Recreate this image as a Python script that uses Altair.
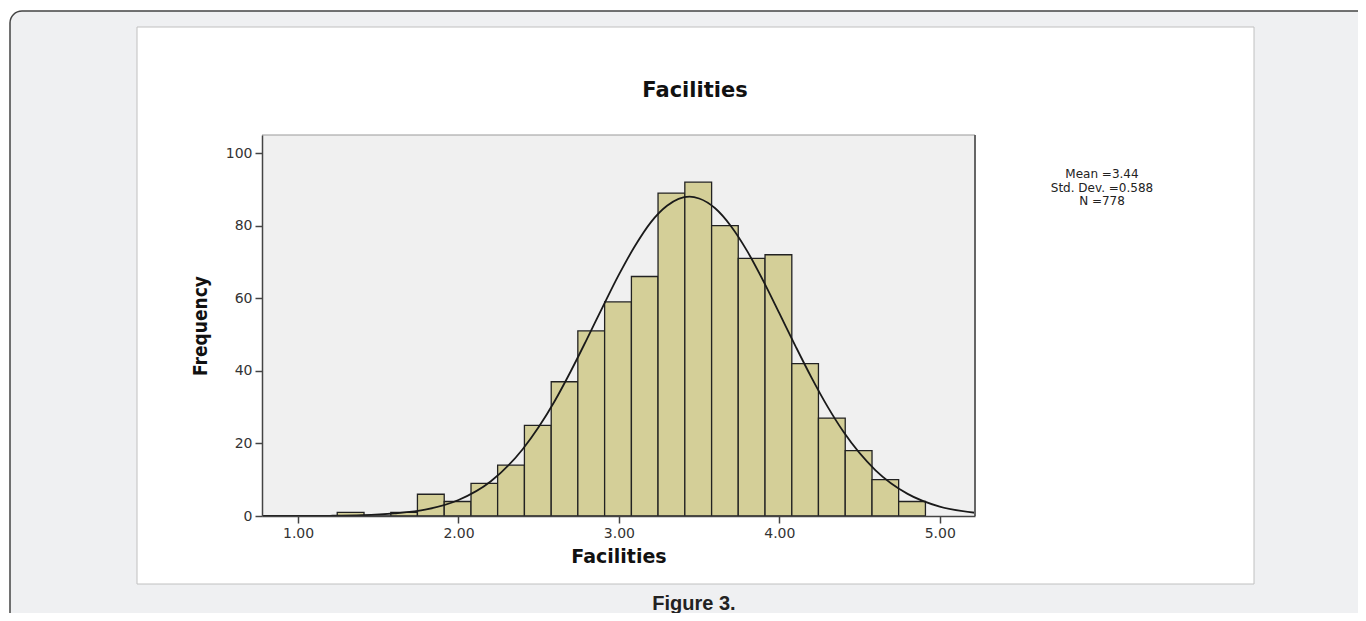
import altair as alt
import pandas as pd

# ---- data ----
bin_lo = [1.244, 1.411, 1.578, 1.744, 1.911, 2.078, 2.244, 2.411, 2.578, 2.744, 2.911,
          3.078, 3.244, 3.411, 3.578, 3.744, 3.911, 4.078, 4.244, 4.411, 4.578, 4.744]
bin_hi = [1.411, 1.578, 1.744, 1.911, 2.078, 2.244, 2.411, 2.578, 2.744, 2.911, 3.078,
          3.244, 3.411, 3.578, 3.744, 3.911, 4.078, 4.244, 4.411, 4.578, 4.744, 4.911]
counts = [1, 0, 1, 6, 4, 9, 14, 25, 37, 51, 59, 66, 89, 92, 80, 71, 72, 42, 27, 18, 10, 4]

curve_x = [0.78, 1.0, 1.2, 1.4, 1.6, 1.8, 2.0, 2.2, 2.4, 2.5, 2.6, 2.7, 2.8, 2.9, 3.0, 3.1,
           3.2, 3.3, 3.44, 3.5, 3.6, 3.7, 3.8, 3.9, 4.0, 4.1, 4.2, 4.3, 4.4, 4.6, 4.8, 5.0, 5.22]
curve_y = [0.0, 0.02, 0.06, 0.2, 0.7, 1.8, 4.4, 9.5, 18.4, 24.5, 31.7, 39.9, 48.7, 57.7, 66.5, 74.4,
           81.0, 85.5, 88.0, 87.5, 84.8, 79.8, 73.0, 64.8, 55.9, 46.9, 38.2, 30.2, 23.2, 12.6, 6.1, 2.6, 0.9]

x_ticks = [1, 2, 3, 4, 5]
y_ticks = [0, 20, 40, 60, 80, 100]
x_domain = [0.775, 5.22]
y_domain = [0, 105]

chart_title = "Facilities"
x_title = "Facilities"
y_title = "Frequency"
stats_lines = ["Mean =3.44", "Std. Dev. =0.588", "N =778"]
caption = "Figure 3."

# ---- layout ----
W, H = 713, 381
bars_df = pd.DataFrame({"lo": bin_lo, "hi": bin_hi, "count": counts})
curve_df = pd.DataFrame({"x": curve_x, "y": curve_y})
one = pd.DataFrame({"k": [0]})

xscale = alt.Scale(domain=x_domain, nice=False, zero=False)
yscale = alt.Scale(domain=y_domain, nice=False)

narrow = "'DejaVu Sans Condensed', 'Liberation Sans Narrow', 'Roboto Condensed', 'Noto Sans', sans-serif"

xaxis = alt.Axis(values=x_ticks, format=".2f", title=x_title, grid=False,
                 domainColor="#444", domainWidth=1.5, tickColor="#444", tickWidth=1.5,
                 tickSize=7, labelFont="DejaVu Sans", labelFontSize=14, labelColor="#333",
                 labelPadding=3, titleFont="DejaVu Sans", titleFontWeight="bold",
                 titleFontSize=19, titleColor="#111", titlePadding=7, zindex=1)
yaxis = alt.Axis(values=y_ticks, format="d", title=y_title, grid=False,
                 domainColor="#444", domainWidth=1.5, tickColor="#444", tickWidth=1.5,
                 tickSize=7, labelFont="DejaVu Sans", labelFontSize=14, labelColor="#333",
                 labelPadding=3, titleFont=narrow, titleFontWeight="bold",
                 titleFontSize=19, titleColor="#111", titlePadding=15, zindex=1)

outer = alt.Chart(one).mark_rect(fill="#eff0f2", stroke="#444", strokeWidth=1.5,
                                 cornerRadius=12).encode(
    x=alt.value(-252), x2=alt.value(1130), y=alt.value(-124), y2=alt.value(520))
panel = alt.Chart(one).mark_rect(fill="white", stroke="#c0c0c0", strokeWidth=1).encode(
    x=alt.value(-125), x2=alt.value(992), y=alt.value(-108), y2=alt.value(449))
plot_bg = alt.Chart(one).mark_rect(fill="#f0f0f0").encode(
    x=alt.value(0), x2=alt.value(W), y=alt.value(0), y2=alt.value(H))

bars = alt.Chart(bars_df).mark_rect(fill="#d4cf98", stroke="#222", strokeWidth=1.3).encode(
    x=alt.X("lo:Q", scale=xscale, axis=xaxis),
    x2="hi:Q",
    y=alt.Y("count:Q", scale=yscale, axis=yaxis),
    y2=alt.datum(0),
)
curve = alt.Chart(curve_df).mark_line(color="#1a1a1a", strokeWidth=1.8,
                                      interpolate="monotone", clip=True).encode(
    x=alt.X("x:Q", scale=xscale, axis=xaxis),
    y=alt.Y("y:Q", scale=yscale, axis=yaxis),
)

frame_top = alt.Chart(one).mark_rule(color="#999", strokeWidth=1).encode(
    x=alt.value(0), x2=alt.value(W), y=alt.value(0))
frame_right = alt.Chart(one).mark_rule(color="#666", strokeWidth=2).encode(
    x=alt.value(W), y=alt.value(0), y2=alt.value(H))

title_mark = alt.Chart(one).mark_text(font="DejaVu Sans", fontWeight="bold", fontSize=21,
                                      color="#111", align="center", baseline="alphabetic").encode(
    x=alt.value(433), y=alt.value(-38), text=alt.value(chart_title))
stats_mark = alt.Chart(one).mark_text(font="DejaVu Sans", fontSize=12, color="#222",
                                      align="center", baseline="middle", lineHeight=13.5,
                                      lineBreak="\n").encode(
    x=alt.value(840), y=alt.value(39), text=alt.value("\n".join(stats_lines)))
caption_mark = alt.Chart(one).mark_text(font="Liberation Sans", fontWeight="bold", fontSize=20,
                                        color="#222", align="center", baseline="alphabetic").encode(
    x=alt.value(432), y=alt.value(475), text=alt.value(caption))

chart = alt.layer(
    outer, panel, plot_bg, bars, curve, frame_top, frame_right,
    title_mark, stats_mark, caption_mark,
).properties(
    width=W, height=H,
    padding={"left": 254, "top": 127, "right": 383, "bottom": 97},
    autosize=alt.AutoSizeParams(type="none"),
    background="white",
).configure_view(stroke=None)

chart.save("out.html", embed_options={"renderer": "svg", "actions": False})
